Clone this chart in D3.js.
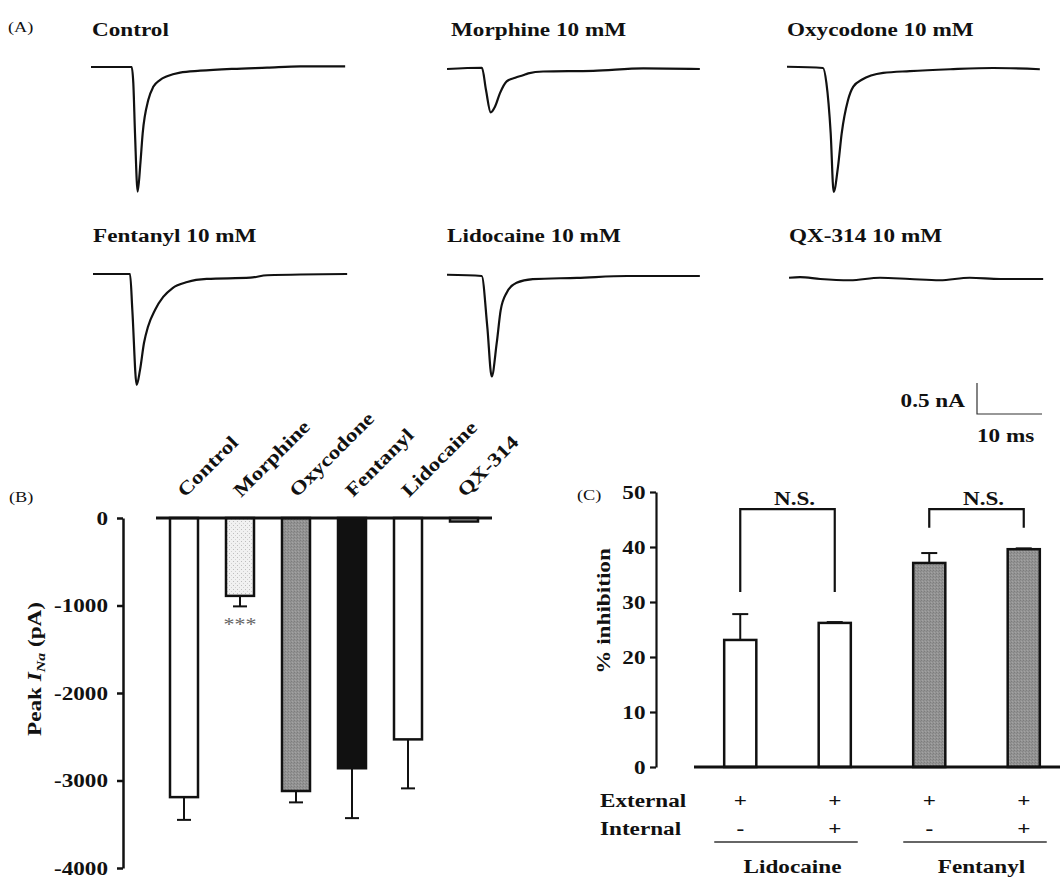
<!DOCTYPE html>
<html><head><meta charset="utf-8">
<script src="https://cdn.jsdelivr.net/npm/d3@7"></script>
<style>
html,body{margin:0;padding:0;background:#fff;}
svg{display:block;}
text{font-family:"Liberation Serif","Times New Roman",serif;font-weight:bold;fill:#111;}
</style></head><body>
<svg id="chart" width="1060" height="878"></svg>
<script>
// ---------------- DATA ----------------
// Panel A: representative current traces, [time (ms), current (nA)]
const traceTitles = ["Control", "Morphine 10 mM", "Oxycodone 10 mM", "Fentanyl 10 mM", "Lidocaine 10 mM", "QX-314 10 mM"];
const traceControl = [[0,0],[6.26,0],[6.51,-0.26],[6.77,-1.07],[7.18,-2.01],[7.6,-1.55],[7.95,-1.07],[8.82,-0.53],[9.58,-0.32],[10.6,-0.21],[11.7,-0.15],[13.7,-0.09],[16.8,-0.06],[21.8,-0.03],[27.1,-0.01],[32.2,0.01],[39.1,0.01]];
const traceMorphine = [[0,0],[5.38,0.02],[6.0,-0.34],[6.72,-0.70],[7.38,-0.61],[8.15,-0.39],[9.18,-0.2],[10.5,-0.14],[11.7,-0.1],[12.5,-0.07],[14.8,-0.04],[22.5,-0.03],[30.2,0.01],[38.9,0]];
const traceOxycodone = [[0,0.02],[5.54,0],[6.06,-0.24],[6.72,-1.05],[7.18,-2.0],[7.85,-1.59],[8.42,-1.05],[9.38,-0.52],[10.2,-0.3],[11.5,-0.19],[14.8,-0.08],[18.9,-0.05],[25.1,-0.02],[31.7,0],[38.9,-0.02]];
const traceFentanyl = [[0,0],[5.7,0],[6.05,-0.58],[6.72,-1.79],[7.23,-1.55],[7.85,-1.11],[8.46,-0.85],[9.54,-0.58],[10.8,-0.37],[12.2,-0.23],[14.5,-0.13],[17.5,-0.08],[24.2,-0.06],[26.8,-0.02],[39.1,0]];
const traceLidocaine = [[0,0.02],[5.34,0],[6.2,-0.82],[6.88,-1.62],[7.65,-1.08],[8.26,-0.55],[9.18,-0.27],[10.7,-0.11],[13.2,-0.05],[20,-0.03],[27.7,0],[38.9,0]];
const traceQX314 = [[0,0.02],[1.7,0.03],[4.8,0],[9.4,-0.02],[14,0.02],[18.6,0],[23.2,-0.02],[27.8,0.02],[32.5,0],[39.1,0]];
const scaleBarTime = 10;      // ms
const scaleBarCurrent = 0.5;  // nA
const scaleBarLabels = ["0.5 nA", "10 ms"];

// Panel B: peak INa (pA)
const bCategories = ["Control", "Morphine", "Oxycodone", "Fentanyl", "Lidocaine", "QX-314"];
const bMeans = [-3190, -890, -3120, -2860, -2530, -40];
const bErrors = [260, 120, 130, 570, 560, 0];
const bSignificance = ["", "***", "", "", "", ""];
const bTicks = [0, -1000, -2000, -3000, -4000];

// Panel C: % inhibition
const cConditions = ["Lido ext", "Lido ext+int", "Fent ext", "Fent ext+int"];
const cGroupOf = ["Lidocaine", "Lidocaine", "Fentanyl", "Fentanyl"];
const cGroups = ["Lidocaine", "Fentanyl"];
const cExternal = ["+", "+", "+", "+"];
const cInternal = ["-", "+", "-", "+"];
const cMeans = [23.1, 26.2, 37.1, 39.6];
const cErrors = [4.7, 0.15, 1.8, 0.15];
const cTicks = [0, 10, 20, 30, 40, 50];
const cBracketFrom = [0, 2];
const cBracketTo = [1, 3];
const cBracketTop = [46.9, 46.9];
const cBracketEnd = [31.8, 43.5];
const cBracketLabel = ["N.S.", "N.S."];

// ---------------- DRAWING ----------------
const svg = d3.select("#chart");
const SX = 1.22; // horizontal stretch of the lettering
const INK = "#111";
const SERIF = '"Liberation Serif","Times New Roman",serif';

function label(parent, x, y, str, opts = {}) {
  const t = parent.append("text")
    .attr("transform", `translate(${x},${y})` + (opts.rotate ? ` rotate(${opts.rotate})` : "") + ` scale(${SX},1)`)
    .attr("text-anchor", opts.anchor || "start")
    .attr("font-size", opts.size || 19)
    .style("font-family", SERIF)
    .text(str);
  if (opts.normal) t.style("font-weight", "normal");
  if (opts.fill) t.style("fill", opts.fill);
  return t;
}

// patterns
const defs = svg.append("defs");
const pm = defs.append("pattern").attr("id", "stipple").attr("patternUnits", "userSpaceOnUse").attr("width", 4).attr("height", 4);
pm.append("rect").attr("width", 4).attr("height", 4).attr("fill", "#f1f1f1");
pm.append("rect").attr("x", 1).attr("y", 1).attr("width", 1).attr("height", 1).attr("fill", "#bdbdbd");
pm.append("rect").attr("x", 3).attr("y", 3).attr("width", 1).attr("height", 1).attr("fill", "#d0d0d0");
const pg = defs.append("pattern").attr("id", "grayTex").attr("patternUnits", "userSpaceOnUse").attr("width", 3).attr("height", 3);
pg.append("rect").attr("width", 3).attr("height", 3).attr("fill", "#939393");
pg.append("rect").attr("x", 0).attr("y", 0).attr("width", 1).attr("height", 1).attr("fill", "#7d7d7d");
pg.append("rect").attr("x", 2).attr("y", 1).attr("width", 1).attr("height", 1).attr("fill", "#858585");
pg.append("rect").attr("x", 1).attr("y", 2).attr("width", 1).attr("height", 1).attr("fill", "#a3a3a3");

// ---- Panel A ----
label(svg, 8, 32, "(A)", {size: 15, normal: true});
const traces = [traceControl, traceMorphine, traceOxycodone, traceFentanyl, traceLidocaine, traceQX314];
const traceOrigins = [[91, 67], [447, 69], [787, 68], [93, 274], [447, 276], [789, 279]];
const titlePos = [[92, 36], [451, 36], [787, 36], [93, 242], [447, 242], [789, 242]];
const tx = d3.scaleLinear().domain([0, 10]).range([0, 65]);
const ty = d3.scaleLinear().domain([0, -0.5]).range([0, 31]);
const traceLine = d3.line().x(d => tx(d[0])).y(d => ty(d[1])).curve(d3.curveMonotoneX);
traces.forEach((tr, i) => {
  const g = svg.append("g").attr("transform", `translate(${traceOrigins[i][0]},${traceOrigins[i][1]})`);
  g.append("path").attr("d", traceLine(tr)).attr("fill", "none").attr("stroke", INK)
    .attr("stroke-width", 2.2).attr("stroke-linejoin", "round");
  label(svg, titlePos[i][0], titlePos[i][1], traceTitles[i]);
});
// scale bar
const sb = svg.append("g").attr("transform", "translate(977,414)");
sb.append("path")
  .attr("d", `M0,${-ty(-scaleBarCurrent)}V0H${tx(scaleBarTime)}`)
  .attr("fill", "none").attr("stroke", "#333").attr("stroke-width", 1.2);
label(svg, 965, 407, scaleBarLabels[0], {anchor: "end"});
label(svg, 977, 442, scaleBarLabels[1]);

// ---- Panel B ----
label(svg, 9, 502, "(B)", {size: 15, normal: true});
const yB = d3.scaleLinear().domain([0, -4000]).range([518, 868]);
const xB = d3.scaleBand().domain(bCategories).range([156, 492]).paddingInner(0.5).paddingOuter(0.25);
const fillB = ["#fff", "url(#stipple)", "url(#grayTex)", "#111", "#fff", "#fff"];
const gB = svg.append("g");
bCategories.forEach((c, i) => {
  const v = bMeans[i];
  gB.append("rect").attr("x", xB(c)).attr("y", yB(0)).attr("width", xB.bandwidth())
    .attr("height", Math.max(yB(v) - yB(0), 1)).attr("fill", fillB[i])
    .attr("stroke", INK).attr("stroke-width", 2.5);
  const cx = xB(c) + xB.bandwidth() / 2;
  if (bErrors[i] > 0) {
    gB.append("line").attr("x1", cx).attr("x2", cx).attr("y1", yB(v)).attr("y2", yB(v - bErrors[i]))
      .attr("stroke", INK).attr("stroke-width", 2);
    gB.append("line").attr("x1", cx - 7).attr("x2", cx + 7).attr("y1", yB(v - bErrors[i])).attr("y2", yB(v - bErrors[i]))
      .attr("stroke", INK).attr("stroke-width", 2);
  }
  if (bSignificance[i]) {
    label(gB, cx, yB(v - bErrors[i]) + 25, bSignificance[i], {anchor: "middle", size: 18, normal: true, fill: "#666"});
  }
  label(svg, cx + 1, 498, c, {rotate: -45});
});
gB.append("line").attr("x1", xB.range()[0]).attr("x2", xB.range()[1]).attr("y1", yB(0)).attr("y2", yB(0))
  .attr("stroke", INK).attr("stroke-width", 3);
const axB = svg.append("g").attr("transform", "translate(123,0)")
  .call(d3.axisLeft(yB).tickValues(bTicks).tickFormat(d => String(d)).tickSize(6).tickPadding(6.3).tickSizeOuter(0));
axB.select(".domain").attr("stroke", INK).attr("stroke-width", 2.5);
axB.selectAll(".tick line").attr("stroke", INK).attr("stroke-width", 2.5);
axB.selectAll(".tick text").attr("font-size", 19).attr("transform", `scale(${SX},1)`)
  .style("fill", INK).style("font-family", SERIF).style("font-weight", "bold");
const yl = label(svg, 41, 669, "Peak ", {rotate: -90, anchor: "middle"});
yl.append("tspan").style("font-style", "italic").text("I");
yl.append("tspan").style("font-style", "italic").attr("font-size", 13).attr("dy", 4).text("Na");
yl.append("tspan").attr("dy", -4).text(" (pA)");

// ---- Panel C ----
label(svg, 577, 500, "(C)", {size: 15, normal: true});
const yC = d3.scaleLinear().domain([0, 50]).range([767, 492]);
const xC = d3.scaleBand().domain(cConditions).range([693, 1071]).paddingInner(0.66).paddingOuter(0.33);
const fillC = {Lidocaine: "#fff", Fentanyl: "url(#grayTex)"};
const gC = svg.append("g");
cConditions.forEach((c, i) => {
  const v = cMeans[i];
  const cx = xC(c) + xC.bandwidth() / 2;
  gC.append("line").attr("x1", cx).attr("x2", cx).attr("y1", yC(v)).attr("y2", yC(v + cErrors[i]))
    .attr("stroke", INK).attr("stroke-width", 2);
  gC.append("line").attr("x1", cx - 8).attr("x2", cx + 8).attr("y1", yC(v + cErrors[i])).attr("y2", yC(v + cErrors[i]))
    .attr("stroke", INK).attr("stroke-width", 2);
  gC.append("rect").attr("x", xC(c)).attr("y", yC(v)).attr("width", xC.bandwidth())
    .attr("height", yC(0) - yC(v)).attr("fill", fillC[cGroupOf[i]])
    .attr("stroke", INK).attr("stroke-width", 2.5);
  label(svg, cx, 807, cExternal[i], {anchor: "middle"});
  label(svg, cx, 835, cInternal[i], {anchor: "middle"});
});
gC.append("line").attr("x1", 694).attr("x2", 1060).attr("y1", yC(0)).attr("y2", yC(0))
  .attr("stroke", INK).attr("stroke-width", 3);
cBracketFrom.forEach((f, k) => {
  const x1 = xC(cConditions[f]) + xC.bandwidth() / 2;
  const x2 = xC(cConditions[cBracketTo[k]]) + xC.bandwidth() / 2;
  gC.append("path").attr("d", `M${x1},${yC(cBracketEnd[k])}V${yC(cBracketTop[k])}H${x2}V${yC(cBracketEnd[k])}`)
    .attr("fill", "none").attr("stroke", INK).attr("stroke-width", 2.2);
  label(svg, (x1 + x2) / 2 + 7, yC(cBracketTop[k]) - 4, cBracketLabel[k], {anchor: "middle"});
});
const axC = svg.append("g").attr("transform", "translate(656,0)")
  .call(d3.axisLeft(yC).tickValues(cTicks).tickFormat(d => String(d)).tickSize(6).tickPadding(2.6).tickSizeOuter(0));
axC.select(".domain").attr("stroke", INK).attr("stroke-width", 2.2);
axC.selectAll(".tick line").attr("stroke", INK).attr("stroke-width", 2.2);
axC.selectAll(".tick text").attr("font-size", 19).attr("transform", `scale(${SX},1)`)
  .style("fill", INK).style("font-family", SERIF).style("font-weight", "bold");
label(svg, 610, 611, "% inhibition", {rotate: -90, anchor: "middle"});
label(svg, 600, 807, "External");
label(svg, 600, 835, "Internal");
cGroups.forEach(gname => {
  const idx = cGroupOf.map((g, i) => g === gname ? i : -1).filter(i => i >= 0);
  const a = xC(cConditions[idx[0]]) + xC.bandwidth() / 2;
  const b = xC(cConditions[idx[idx.length - 1]]) + xC.bandwidth() / 2;
  svg.append("line").attr("x1", a - 26).attr("x2", b + 23).attr("y1", 842).attr("y2", 842)
    .attr("stroke", "#333").attr("stroke-width", 1.5);
  label(svg, (a + b) / 2 + 5, 873, gname, {anchor: "middle"});
});
</script>
</body></html>
